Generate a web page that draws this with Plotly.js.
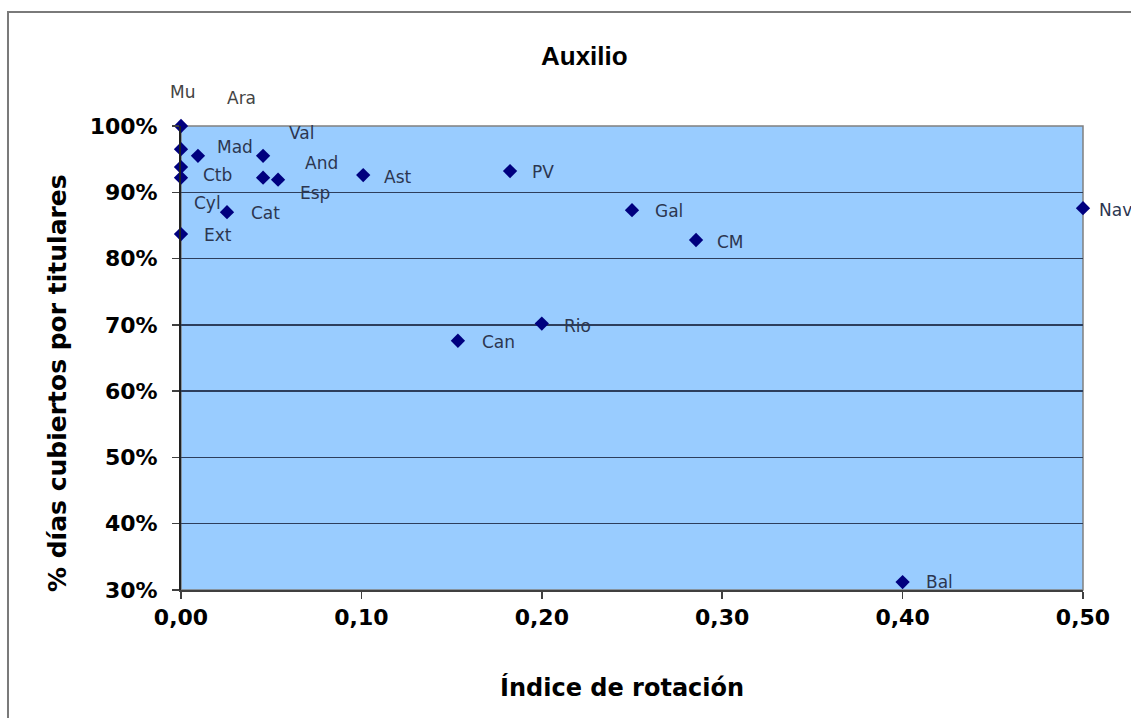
<!DOCTYPE html>
<html>
<head>
<meta charset="utf-8">
<script src="https://cdn.plot.ly/plotly-3.0.1.min.js"></script>
<style>html,body{margin:0;padding:0;background:#fff;}#chart{width:1131px;height:718px;}</style>
</head>
<body>
<div id="chart"></div>
<script>
// Data
const regions = ['Mu','Ara','Mad','Ctb','Cyl','Ext','Val','And','Esp','Cat','Ast','PV','Rio','Can','Gal','CM','Nav','Bal'];
const rotationIndex = [0, 0, 0.0094, 0, 0, 0, 0.0455, 0.0455, 0.0538, 0.0255, 0.101, 0.1824, 0.2, 0.1535, 0.25, 0.2855, 0.5, 0.4];
const coveredDays = [1.0, 0.965, 0.955, 0.938, 0.922, 0.837, 0.955, 0.922, 0.919, 0.870, 0.926, 0.932, 0.702, 0.676, 0.873, 0.828, 0.876, 0.312];
const xTickValues = [0, 0.1, 0.2, 0.3, 0.4, 0.5];
const yTickValues = [0.3, 0.4, 0.5, 0.6, 0.7, 0.8, 0.9, 1.0];

const chartTitle = 'Auxilio';
const xTitle = 'Índice de rotación';
const yTitle = '% días cubiertos por titulares';

// label placement offsets (pixels, right/down) relative to each point
const labelOffsets = {
  Mu: [-13, -34], Ara: [44, -51], Mad: [17, -9], Ctb: [20, 8], Cyl: [11, 25], Ext: [21, 1],
  Val: [24, -23], And: [40, -15], Esp: [20, 13], Cat: [22, 1], Ast: [19, 2], PV: [20, 1],
  Rio: [20, 2], Can: [22, 1], Gal: [21, 1], CM: [19, 2], Nav: [14, 2], Bal: [21, 0]
};
const outsideLabels = ['Mu', 'Ara'];

const trace = {
  type: 'scatter',
  mode: 'markers',
  x: rotationIndex,
  y: coveredDays,
  marker: { symbol: 'diamond', size: 11, color: '#00007f' },
  cliponaxis: false,
  hoverinfo: 'x+y+text',
  text: regions
};

const annotations = regions.map((r, i) => {
  const off = labelOffsets[r] || [15, 0];
  const outside = outsideLabels.indexOf(r) >= 0;
  return {
    x: rotationIndex[i], y: coveredDays[i], xref: 'x', yref: 'y',
    text: r, showarrow: false, xanchor: 'left', yanchor: 'middle',
    xshift: off[0], yshift: -off[1],
    font: { family: 'DejaVu Sans', size: 17, color: outside ? '#444444' : '#2c3650' }
  };
});

annotations.push({
  xref: 'paper', yref: 'paper', x: -0.1375, y: 0.446, text: yTitle, textangle: -90,
  showarrow: false, xanchor: 'center', yanchor: 'middle',
  font: { family: 'DejaVu Sans', size: 25, color: '#000', weight: 'bold' }
});
annotations.push({
  xref: 'paper', yref: 'paper', x: 0.489, y: -0.211, text: xTitle,
  showarrow: false, xanchor: 'center', yanchor: 'middle',
  font: { family: 'DejaVu Sans', size: 24, color: '#000', weight: 'bold' }
});
annotations.push({
  xref: 'paper', yref: 'paper', x: 0.447, y: 1.151, text: chartTitle,
  showarrow: false, xanchor: 'center', yanchor: 'middle',
  font: { family: 'Liberation Sans', size: 26, color: '#000', weight: 'bold' }
});

const layout = {
  width: 1131, height: 718,
  margin: { l: 181, r: 48, t: 126, b: 128 },
  paper_bgcolor: '#ffffff',
  plot_bgcolor: '#99ccff',
  separators: ',.',
  showlegend: false,
  xaxis: {
    range: [0, 0.5], tickvals: xTickValues, tickformat: '.2f',
    showgrid: false, zeroline: false,
    showline: true, linecolor: '#404040', linewidth: 2,
    ticks: 'outside', ticklen: 7, tickcolor: '#404040', tickwidth: 1.5,
    tickfont: { family: 'DejaVu Sans', size: 22, color: '#000', weight: 'bold' },
    fixedrange: true
  },
  yaxis: {
    range: [0.3, 1.0], tickvals: yTickValues, tickformat: '.0%',
    showgrid: true, gridcolor: '#2d3e5c', gridwidth: 1.5, zeroline: false,
    showline: true, linecolor: '#202020', linewidth: 2,
    ticks: 'outside', ticklen: 7, tickcolor: '#404040', tickwidth: 1.5,
    ticklabelstandoff: 10,
    tickfont: { family: 'DejaVu Sans', size: 22, color: '#000', weight: 'bold' },
    fixedrange: true
  },
  annotations: annotations,
  shapes: [
    { type: 'rect', xref: 'paper', yref: 'paper', x0: 0, x1: 1, y0: 0, y1: 1,
      line: { color: '#808080', width: 1.5 }, layer: 'below' },
    { type: 'rect', xref: 'paper', yref: 'paper', x0: -0.1918, x1: 1.2, y0: -0.6, y1: 1.2457,
      line: { color: '#7a7a7a', width: 2 }, fillcolor: 'rgba(0,0,0,0)' }
  ]
};

Plotly.newPlot('chart', [trace], layout, { displayModeBar: false, staticPlot: true });
</script>
</body>
</html>
